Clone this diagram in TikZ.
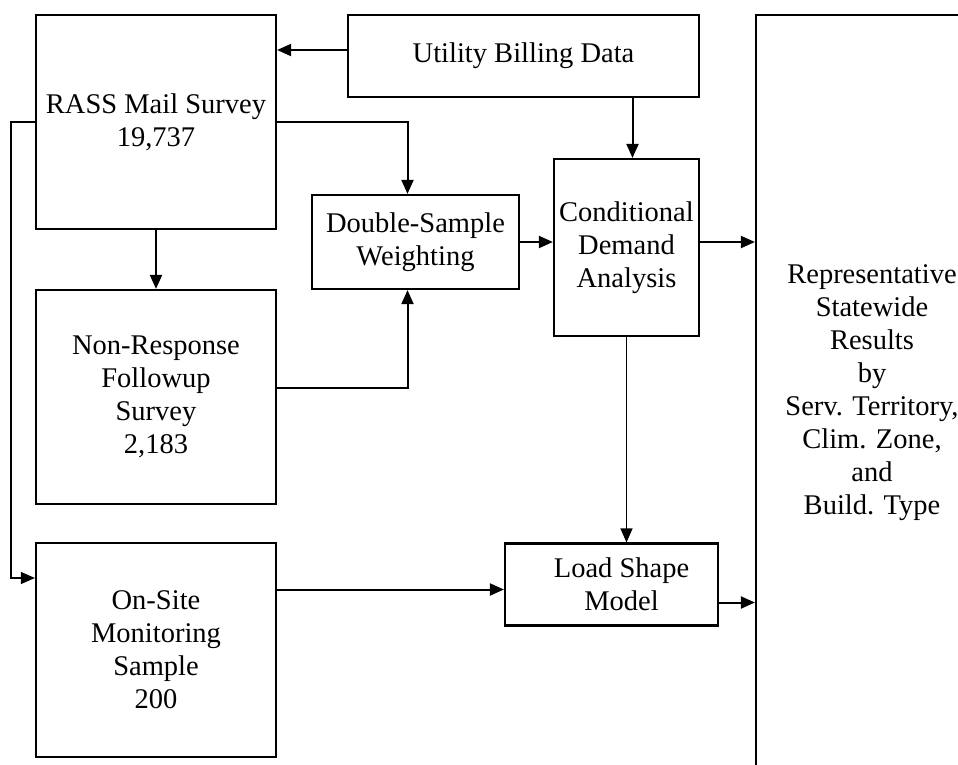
\documentclass[tikz,border=0pt]{standalone}
\usepackage{fontspec}
\setmainfont{Liberation Serif}
\usetikzlibrary{arrows.meta}
\tikzset{
  blk/.style={draw, line width=2.2pt, inner sep=0pt, align=center,
    font=\fontsize{28.5}{33}\selectfont},
  arr/.style={line width=2pt, -{Triangle[length=14pt,width=12pt]}},
  thinarr/.style={line width=1.2pt, -{Triangle[length=14pt,width=12pt]}}
}
\begin{document}
\begin{tikzpicture}[x=1pt,y=-1pt]
  \useasboundingbox (0,0) rectangle (958,764);
  \clip (0,0) rectangle (958,764);
  \node[blk, minimum width=240pt, minimum height=214pt] (rass) at (156,122) {RASS Mail Survey\\19,737};
  \node[blk, minimum width=351pt, minimum height=82pt] (util) at (523.5,56) {Utility Billing Data};
  \node[blk, minimum width=207pt, minimum height=94pt] (dsw) at (415.5,242) {Double-Sample\\Weighting};
  \node[blk, minimum width=145pt, minimum height=177pt] (cda) at (626.5,247.5) {Conditional\\Demand\\Analysis};
  \node[blk, minimum width=240pt, minimum height=214pt] (nonresp) at (156,397) {Non-Response\\Followup\\Survey\\2,183};
  \node[blk, minimum width=240pt, minimum height=214pt] (onsite) at (156,650) {On-Site\\Monitoring\\Sample\\200};
  \node[blk, minimum width=213pt, minimum height=82pt] (load) at (611.5,584.5) {\hspace*{20pt}Load Shape\\\hspace*{20pt}Model};
  \node[blk, minimum width=232pt, minimum height=770pt] (results) at (872,400) {Representative\\Statewide\\Results\\by\\Serv. Territory,\\Clim. Zone,\\and\\Build. Type\\[-13pt]\mbox{}};
  \draw[arr] ([yshift=6pt]util.west) -- ([yshift=6pt]util.west -| rass.east);
  \draw[arr] (rass.east) -| ([xshift=-8pt]dsw.north);
  \draw[arr] (rass) -- (nonresp);
  \draw[arr] ([yshift=9pt]nonresp.east) -| ([xshift=-8pt]dsw.south);
  \draw[arr] ([xshift=6pt]cda.north |- util.south) -- ([xshift=6pt]cda.north);
  \draw[arr] (dsw.east) -- (dsw.east -| cda.west);
  \draw[arr] (cda.east |- dsw.east) -- (results.west |- dsw.east);
  \draw[thinarr] (cda.south) -- (cda.south |- load.north);
  \draw[arr] ([yshift=-5pt]load.west -| onsite.east) -- ([yshift=-5pt]load.west);
  \draw[arr] ([yshift=-18pt]load.east) -- ([yshift=-18pt]load.east -| results.west);
  \draw[thinarr] (rass.west) -- ++(-24,0) |- ([yshift=72pt]onsite.west);
\end{tikzpicture}
\end{document}
